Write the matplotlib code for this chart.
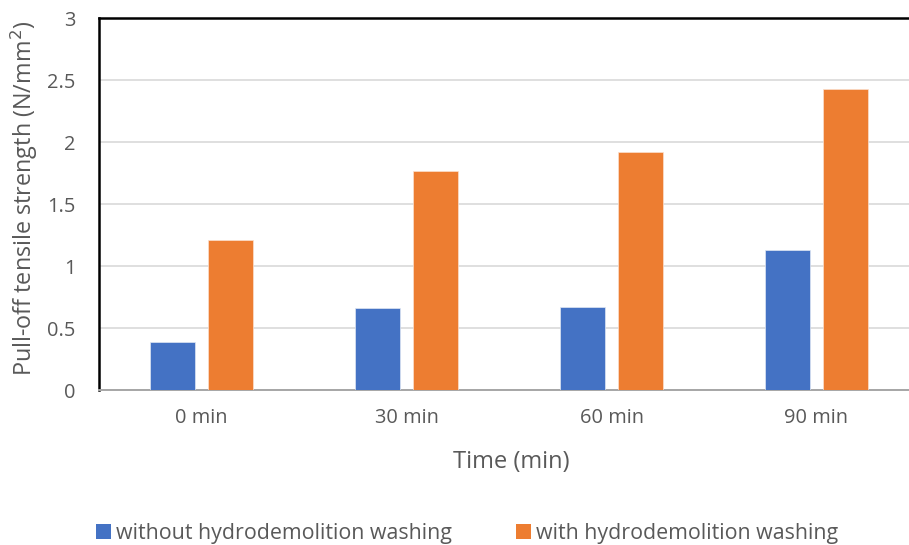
import matplotlib
matplotlib.use("Agg")
import matplotlib.pyplot as plt
import numpy as np
from matplotlib.patches import Patch

categories = ["0 min", "30 min", "60 min", "90 min"]
without_washing = [0.39, 0.66, 0.67, 1.13]
with_washing = [1.21, 1.77, 1.92, 2.43]
series_names = ["without hydrodemolition washing", "with hydrodemolition washing"]
y_ticks = [0, 0.5, 1, 1.5, 2, 2.5, 3]
y_tick_labels = ["0", "0.5", "1", "1.5", "2", "2.5", "3"]

plt.rcParams['font.family'] = ['Open Sans', 'DejaVu Sans']
text_color = "#595959"
blue = "#4472C4"
orange = "#ED7D31"

W, H = 909, 545
fig = plt.figure(figsize=(W / 100, H / 100), dpi=100)
left, right, top, bottom = 99, 919, 18, 390
ax = fig.add_axes([left / W, 1 - bottom / H, (right - left) / W, (bottom - top) / H])

x = np.arange(len(categories))
bw = 0.224
off = 0.1415
ax.bar(x - off, without_washing, bw, color=blue, edgecolor="#dfe6f3", linewidth=0.5, zorder=3)
ax.bar(x + off, with_washing, bw, color=orange, edgecolor="#fbe0cf", linewidth=0.5, zorder=3)

ax.set_xlim(-0.5, len(categories) - 0.5)
ax.set_ylim(0, 3)
ax.set_yticks(y_ticks)
ax.set_yticklabels(y_tick_labels)
ax.set_xticks(x)
ax.set_xticklabels(categories)
ax.tick_params(axis="both", length=0, labelsize=14.4, colors=text_color)
ax.tick_params(axis="y", pad=17)
ax.tick_params(axis="x", pad=13)

ax.yaxis.grid(True, color="#d9d9d9", linewidth=1.2, zorder=0)
ax.set_axisbelow(True)

ax.spines["top"].set_color("black")
ax.spines["top"].set_linewidth(1.8)
ax.spines["left"].set_color("black")
ax.spines["left"].set_linewidth(1.8)
ax.spines["bottom"].set_color("#a6a6a6")
ax.spines["bottom"].set_linewidth(1.4)
ax.spines["right"].set_visible(False)

fig.text(24 / W, 1 - 198 / H, "Pull-off tensile strength (N/mm$^2$)", rotation=90,
         ha="center", va="center", fontsize=16.8, color=text_color)
fig.text(511 / W, 1 - 462 / H, "Time (min)", ha="center", va="center",
         fontsize=17, color=text_color)

handles = [Patch(facecolor=blue), Patch(facecolor=orange)]
fig.legend(handles, series_names, loc="center", bbox_to_anchor=(467 / W, 1 - 533 / H),
           ncol=2, frameon=False, fontsize=15.4, labelcolor=text_color,
           handlelength=0.7, handleheight=0.7, handletextpad=0.25, columnspacing=3.0)

fig.savefig("out.png", dpi=100)
